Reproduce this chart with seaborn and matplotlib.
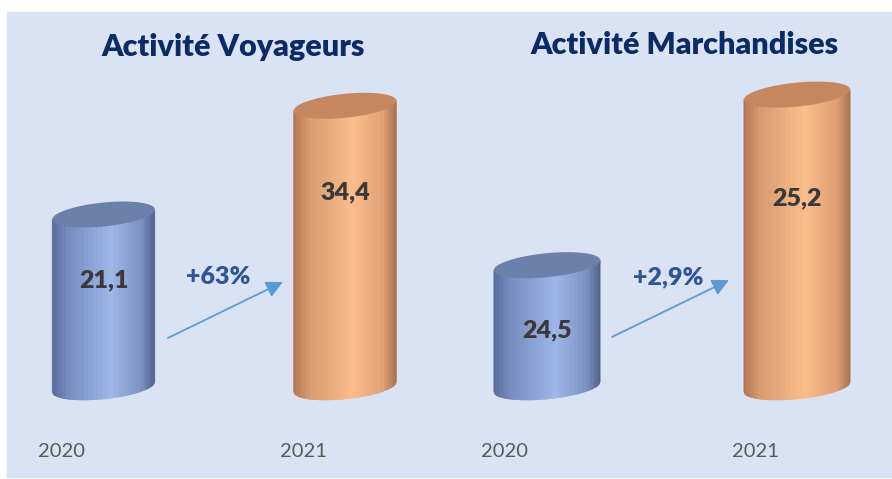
import numpy as np
import pandas as pd
import matplotlib.pyplot as plt
import seaborn as sns
from matplotlib.collections import PolyCollection
from matplotlib.patches import Polygon, Rectangle
from matplotlib.colors import LinearSegmentedColormap
from matplotlib.transforms import ScaledTranslation

# data
years = ['2020', '2021']
voyageurs = [21.1, 34.4]
marchandises = [24.5, 25.2]
titles = ['Activité Voyageurs', 'Activité Marchandises']
evolutions = ['+63%', '+2,9%']
value_labels = [['21,1', '34,4'], ['24,5', '25,2']]

# layout (axis minimum of each panel, label heights in axes fraction)
y_ranges = [(0, 40), (24, 25.342)]
label_frac = [[0.327, 0.596], [0.174, 0.578]]
pct_pos = [(0.474, 0.336), (0.484, 0.336)]
arrows = [((0.267, 0.150), (0.743, 0.321)), ((0.26, 0.153), (0.728, 0.327))]

sns.set_style('white')
plt.rcParams['font.family'] = ['Lato', 'DejaVu Sans']

blue_cm = LinearSegmentedColormap.from_list('b', [(0, '#56699a'), (0.15, '#7389bd'), (0.58, '#9db6ea'),
                                                  (0.88, '#7a8fc0'), (1, '#4f6088')])
orange_cm = LinearSegmentedColormap.from_list('o', [(0, '#b27450'), (0.15, '#d7996c'), (0.58, '#fdbd8b'),
                                                    (0.88, '#df9e70'), (1, '#a96f4c')])
cmaps = [blue_cm, orange_cm]
top_cols = ['#6b80ab', '#c5875f']

W, H = 892, 479
fig = plt.figure(figsize=(W / 100, H / 100), dpi=100)
fig.patches.append(Rectangle((7 / W, 2 / H), 1, 465 / H, transform=fig.transFigure,
                             color='#dae3f3', zorder=-5))

axes = [fig.add_axes([6.9 / W, 92 / H, 434.7 / W, 327 / H]),
        fig.add_axes([447 / W, 92 / H, 450 / W, 327 / H])]


def cylinder(ax, bar, base, cmap, top_col):
    sy = ax.transData.transform((0, 1))[1] - ax.transData.transform((0, 0))[1]
    L = bar.get_x()
    w = bar.get_width()
    R = L + w
    cx = L + w / 2
    top = bar.get_y() + bar.get_height()
    b = 12 / sy
    d = 5 / sy
    xs = np.linspace(L, R, 81)
    u = (xs - cx) / (w / 2)
    low = base - b * np.sqrt(np.clip(1 - u ** 2, 0, None)) + d * u
    upp = top + d * u
    polys, cols = [], []
    for i in range(len(xs) - 1):
        polys.append([(xs[i], low[i]), (xs[i + 1], low[i + 1]), (xs[i + 1], upp[i + 1]), (xs[i], upp[i])])
        cols.append(cmap((i + 0.5) / (len(xs) - 1)))
    pc = PolyCollection(polys, facecolors=cols, edgecolors=cols, linewidths=0.4, clip_on=False, zorder=2)
    ax.add_collection(pc, autolim=False)
    t = np.linspace(0, 2 * np.pi, 200)
    ell = np.column_stack([cx + w / 2 * np.cos(t), top + b * np.sin(t) + d * np.cos(t)])
    ax.add_patch(Polygon(ell, closed=True, facecolor=top_col, edgecolor='none', clip_on=False, zorder=3))
    return cx


for k, (ax, vals) in enumerate(zip(axes, [voyageurs, marchandises])):
    df = pd.DataFrame({'annee': years, 'valeur': vals})
    sns.barplot(data=df, x='annee', y='valeur', ax=ax, width=0.425, color='white')
    ax.set_xlim(-0.4, 1.4)
    ax.set_ylim(*y_ranges[k])
    ax.set_facecolor('none')
    for j, bar in enumerate(list(ax.patches)):
        bar.set_alpha(0)
        cx = cylinder(ax, bar, y_ranges[k][0], cmaps[j], top_cols[j])
        ax.text(cx, label_frac[k][j], value_labels[k][j], transform=ax.get_xaxis_transform(),
                ha='center', va='center', fontsize=18, fontweight='heavy', color='#3a3a3a', zorder=5)
    ax.text(pct_pos[k][0], pct_pos[k][1], evolutions[k], transform=ax.get_xaxis_transform(),
            ha='center', va='center', fontsize=18, fontweight='heavy', color='#2f5597')
    (x0, y0), (x1, y1) = arrows[k]
    ax.annotate('', xy=(x1, y1), xytext=(x0, y0), xycoords=ax.get_xaxis_transform(),
                textcoords=ax.get_xaxis_transform(),
                arrowprops=dict(arrowstyle='-|>', color='#5b9bd5', lw=1.3, mutation_scale=25,
                                shrinkA=0, shrinkB=0))
    ax.set_yticks([])
    ax.set_xlabel('')
    ax.set_ylabel('')
    ax.tick_params(axis='x', length=0, pad=40, labelsize=14.5, labelcolor='#595959')
    for lab in ax.get_xticklabels():
        lab.set_transform(lab.get_transform() + ScaledTranslation(-0.42, 0, fig.dpi_scale_trans))
    sns.despine(ax=ax, left=True, bottom=True)
    ax.set_ylim(*y_ranges[k])

fig.text(233 / W, 1 - 47 / H, titles[0], ha='center', va='center', fontsize=22,
         fontweight='heavy', color='#0b2a66')
fig.text(684 / W, 1 - 45 / H, titles[1], ha='center', va='center', fontsize=22,
         fontweight='heavy', color='#0b2a66')

fig.savefig('out.png', dpi=100)
